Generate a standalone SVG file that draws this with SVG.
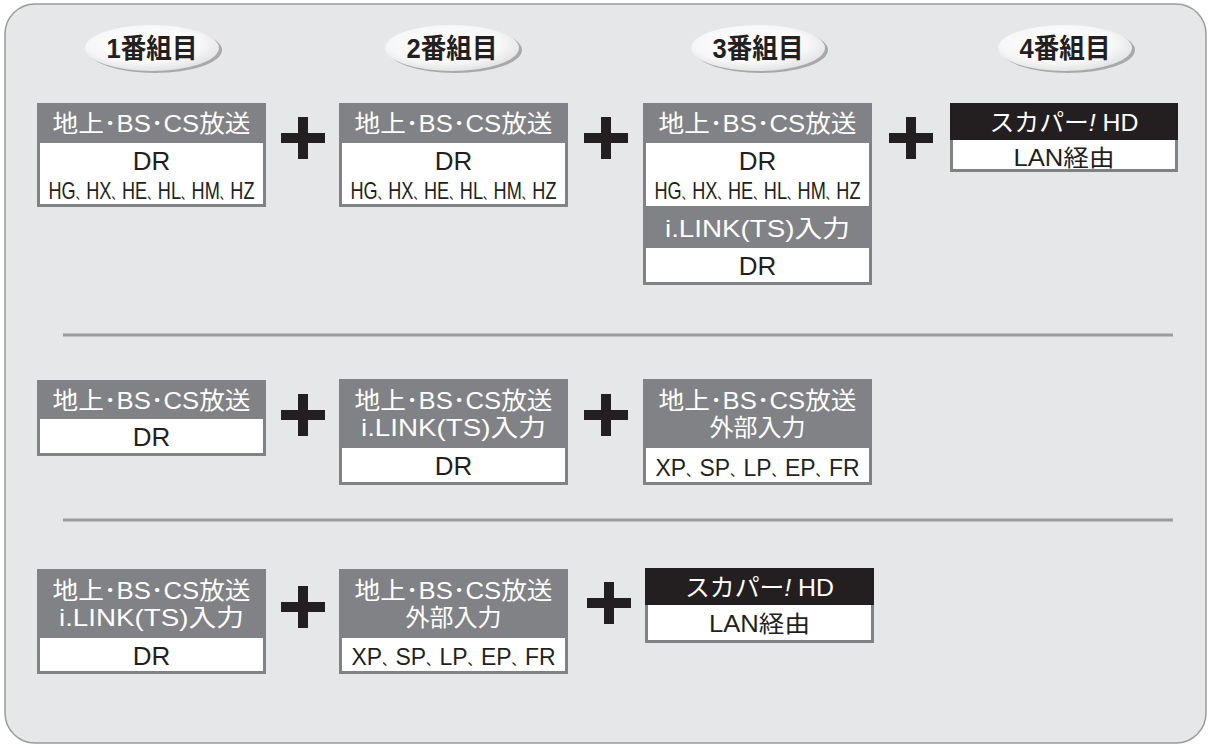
<svg xmlns="http://www.w3.org/2000/svg" width="1211" height="748" viewBox="0 0 1211 748">
<defs>
<style>
.hd{fill:#818285}
.hdk{fill:#231f20}
.wb{fill:#ffffff}
.ht{font-family:"Liberation Sans","Noto Sans CJK JP",sans-serif;font-size:24px;fill:#ffffff;text-anchor:middle}
.bt{font-family:"Liberation Sans","Noto Sans CJK JP",sans-serif;font-size:26px;fill:#231f20;text-anchor:middle}
.lt{font-family:"Liberation Sans","Noto Sans CJK JP",sans-serif;font-size:23px;fill:#231f20;text-anchor:middle}
.ct{font-family:"Liberation Sans Narrow","Liberation Sans","Noto Sans CJK JP",sans-serif;font-size:24px;fill:#231f20;text-anchor:middle}
.cm{font-size:14px}
.ot{font-family:"Liberation Sans","Noto Sans CJK JP",sans-serif;font-size:27px;font-weight:bold;fill:#231f20;text-anchor:middle}
.sep{stroke:#9a9b9d;stroke-width:3}
.plus{fill:#231f20}
.osh{fill:#a7a9ac}
</style>
<radialGradient id="og" cx="0.45" cy="0.4" r="0.6">
<stop offset="0" stop-color="#ffffff"/>
<stop offset="0.7" stop-color="#f7f7f7"/>
<stop offset="1" stop-color="#e4e4e4"/>
</radialGradient>
<g id="pl"><rect x="-22" y="-5" width="44" height="10"/><rect x="-5" y="-21" width="10" height="42"/></g>
</defs>
<rect x="5" y="4" width="1201" height="739" rx="30" ry="30" fill="#e6e7e8" stroke="#9a9b9d" stroke-width="1.5"/>

<g id="headers">
<g id="oval1"><ellipse cx="155" cy="50" rx="67" ry="23" class="osh"/><ellipse cx="152" cy="48" rx="67" ry="23" fill="url(#og)"/><text x="152" y="58" class="ot" textLength="91" lengthAdjust="spacingAndGlyphs">1番組目</text></g>
<g id="oval2"><ellipse cx="455" cy="50" rx="67" ry="23" class="osh"/><ellipse cx="452" cy="48" rx="67" ry="23" fill="url(#og)"/><text x="452" y="58" class="ot" textLength="91" lengthAdjust="spacingAndGlyphs">2番組目</text></g>
<g id="oval3"><ellipse cx="761" cy="50" rx="67" ry="23" class="osh"/><ellipse cx="758" cy="48" rx="67" ry="23" fill="url(#og)"/><text x="758" y="58" class="ot" textLength="91" lengthAdjust="spacingAndGlyphs">3番組目</text></g>
<g id="oval4"><ellipse cx="1068" cy="50" rx="67" ry="23" class="osh"/><ellipse cx="1065" cy="48" rx="67" ry="23" fill="url(#og)"/><text x="1065" y="58" class="ot" textLength="91" lengthAdjust="spacingAndGlyphs">4番組目</text></g>
</g>

<g id="connectors">
<use href="#pl" x="303" y="138" class="plus"/>
<use href="#pl" x="606" y="138" class="plus"/>
<use href="#pl" x="911" y="138" class="plus"/>
<use href="#pl" x="303" y="415" class="plus"/>
<use href="#pl" x="606" y="415" class="plus"/>
<use href="#pl" x="303" y="607" class="plus"/>
<use href="#pl" x="609" y="603" class="plus"/>
<line x1="63" y1="335" x2="1173" y2="335" class="sep"/>
<line x1="63" y1="520" x2="1173" y2="520" class="sep"/>
</g>

<!-- Row 1 -->
<g id="r1b1">
<rect x="37" y="103" width="229" height="104" class="hd"/>
<rect x="40" y="143" width="223" height="61" class="wb"/>
<text x="151.5" y="132" class="ht" textLength="198" lengthAdjust="spacingAndGlyphs">地上･BS･CS放送</text>
<text x="151.5" y="170" class="bt">DR</text>
<text x="151.5" y="199" class="ct" textLength="206" lengthAdjust="spacingAndGlyphs">HG<tspan class="cm">、</tspan>HX<tspan class="cm">、</tspan>HE<tspan class="cm">、</tspan>HL<tspan class="cm">、</tspan>HM<tspan class="cm">、</tspan>HZ</text>
</g>
<g id="r1b2">
<rect x="339" y="103" width="229" height="104" class="hd"/>
<rect x="342" y="143" width="223" height="61" class="wb"/>
<text x="453.5" y="132" class="ht" textLength="198" lengthAdjust="spacingAndGlyphs">地上･BS･CS放送</text>
<text x="453.5" y="170" class="bt">DR</text>
<text x="453.5" y="199" class="ct" textLength="206" lengthAdjust="spacingAndGlyphs">HG<tspan class="cm">、</tspan>HX<tspan class="cm">、</tspan>HE<tspan class="cm">、</tspan>HL<tspan class="cm">、</tspan>HM<tspan class="cm">、</tspan>HZ</text>
</g>
<g id="r1b3">
<rect x="643" y="103" width="229" height="182" class="hd"/>
<rect x="646" y="143" width="223" height="63" class="wb"/>
<rect x="646" y="248" width="223" height="34" class="wb"/>
<text x="757.5" y="132" class="ht" textLength="198" lengthAdjust="spacingAndGlyphs">地上･BS･CS放送</text>
<text x="757.5" y="170" class="bt">DR</text>
<text x="757.5" y="199" class="ct" textLength="206" lengthAdjust="spacingAndGlyphs">HG<tspan class="cm">、</tspan>HX<tspan class="cm">、</tspan>HE<tspan class="cm">、</tspan>HL<tspan class="cm">、</tspan>HM<tspan class="cm">、</tspan>HZ</text>
<text x="757.5" y="237" class="ht" textLength="185" lengthAdjust="spacingAndGlyphs">i.LINK(TS)入力</text>
<text x="757.5" y="275" class="bt">DR</text>
</g>
<g id="r1b4">
<rect x="950" y="103" width="228" height="69" class="hd"/>
<rect x="950" y="103" width="228" height="37" class="hdk"/>
<rect x="953" y="140" width="222" height="29" class="wb"/>
<text x="1064" y="131" class="ht" textLength="149" lengthAdjust="spacingAndGlyphs">スカパー<tspan font-style="italic">!</tspan> HD</text>
<text x="1064" y="166" class="lt" textLength="101" lengthAdjust="spacingAndGlyphs">LAN経由</text>
</g>

<!-- Row 2 -->
<g id="r2b1">
<rect x="37" y="380" width="229" height="76" class="hd"/>
<rect x="40" y="419" width="223" height="34" class="wb"/>
<text x="151.5" y="409" class="ht" textLength="198" lengthAdjust="spacingAndGlyphs">地上･BS･CS放送</text>
<text x="151.5" y="446" class="bt">DR</text>
</g>
<g id="r2b2">
<rect x="339" y="379" width="229" height="106" class="hd"/>
<rect x="342" y="448" width="223" height="34" class="wb"/>
<text x="453.5" y="409" class="ht" textLength="198" lengthAdjust="spacingAndGlyphs">地上･BS･CS放送</text>
<text x="453.5" y="436" class="ht" textLength="185" lengthAdjust="spacingAndGlyphs">i.LINK(TS)入力</text>
<text x="453.5" y="475" class="bt">DR</text>
</g>
<g id="r2b3">
<rect x="643" y="379" width="229" height="106" class="hd"/>
<rect x="646" y="448" width="223" height="34" class="wb"/>
<text x="757.5" y="409" class="ht" textLength="198" lengthAdjust="spacingAndGlyphs">地上･BS･CS放送</text>
<text x="757.5" y="436" class="ht">外部入力</text>
<text x="757.5" y="476" class="ct" textLength="204" lengthAdjust="spacingAndGlyphs">XP<tspan class="cm">、</tspan>SP<tspan class="cm">、</tspan>LP<tspan class="cm">、</tspan>EP<tspan class="cm">、</tspan>FR</text>
</g>

<!-- Row 3 -->
<g id="r3b1">
<rect x="37" y="569" width="229" height="105" class="hd"/>
<rect x="40" y="638" width="223" height="33" class="wb"/>
<text x="151.5" y="599" class="ht" textLength="198" lengthAdjust="spacingAndGlyphs">地上･BS･CS放送</text>
<text x="151.5" y="626" class="ht" textLength="185" lengthAdjust="spacingAndGlyphs">i.LINK(TS)入力</text>
<text x="151.5" y="665" class="bt">DR</text>
</g>
<g id="r3b2">
<rect x="339" y="569" width="229" height="105" class="hd"/>
<rect x="342" y="638" width="223" height="33" class="wb"/>
<text x="453.5" y="599" class="ht" textLength="198" lengthAdjust="spacingAndGlyphs">地上･BS･CS放送</text>
<text x="453.5" y="626" class="ht">外部入力</text>
<text x="453.5" y="665" class="ct" textLength="204" lengthAdjust="spacingAndGlyphs">XP<tspan class="cm">、</tspan>SP<tspan class="cm">、</tspan>LP<tspan class="cm">、</tspan>EP<tspan class="cm">、</tspan>FR</text>
</g>
<g id="r3b3">
<rect x="645" y="568" width="229" height="75" class="hd"/>
<rect x="645" y="568" width="229" height="37" class="hdk"/>
<rect x="648" y="605" width="223" height="35" class="wb"/>
<text x="759.5" y="596" class="ht" textLength="149" lengthAdjust="spacingAndGlyphs">スカパー<tspan font-style="italic">!</tspan> HD</text>
<text x="759.5" y="632" class="lt" textLength="101" lengthAdjust="spacingAndGlyphs">LAN経由</text>
</g>
</svg>
